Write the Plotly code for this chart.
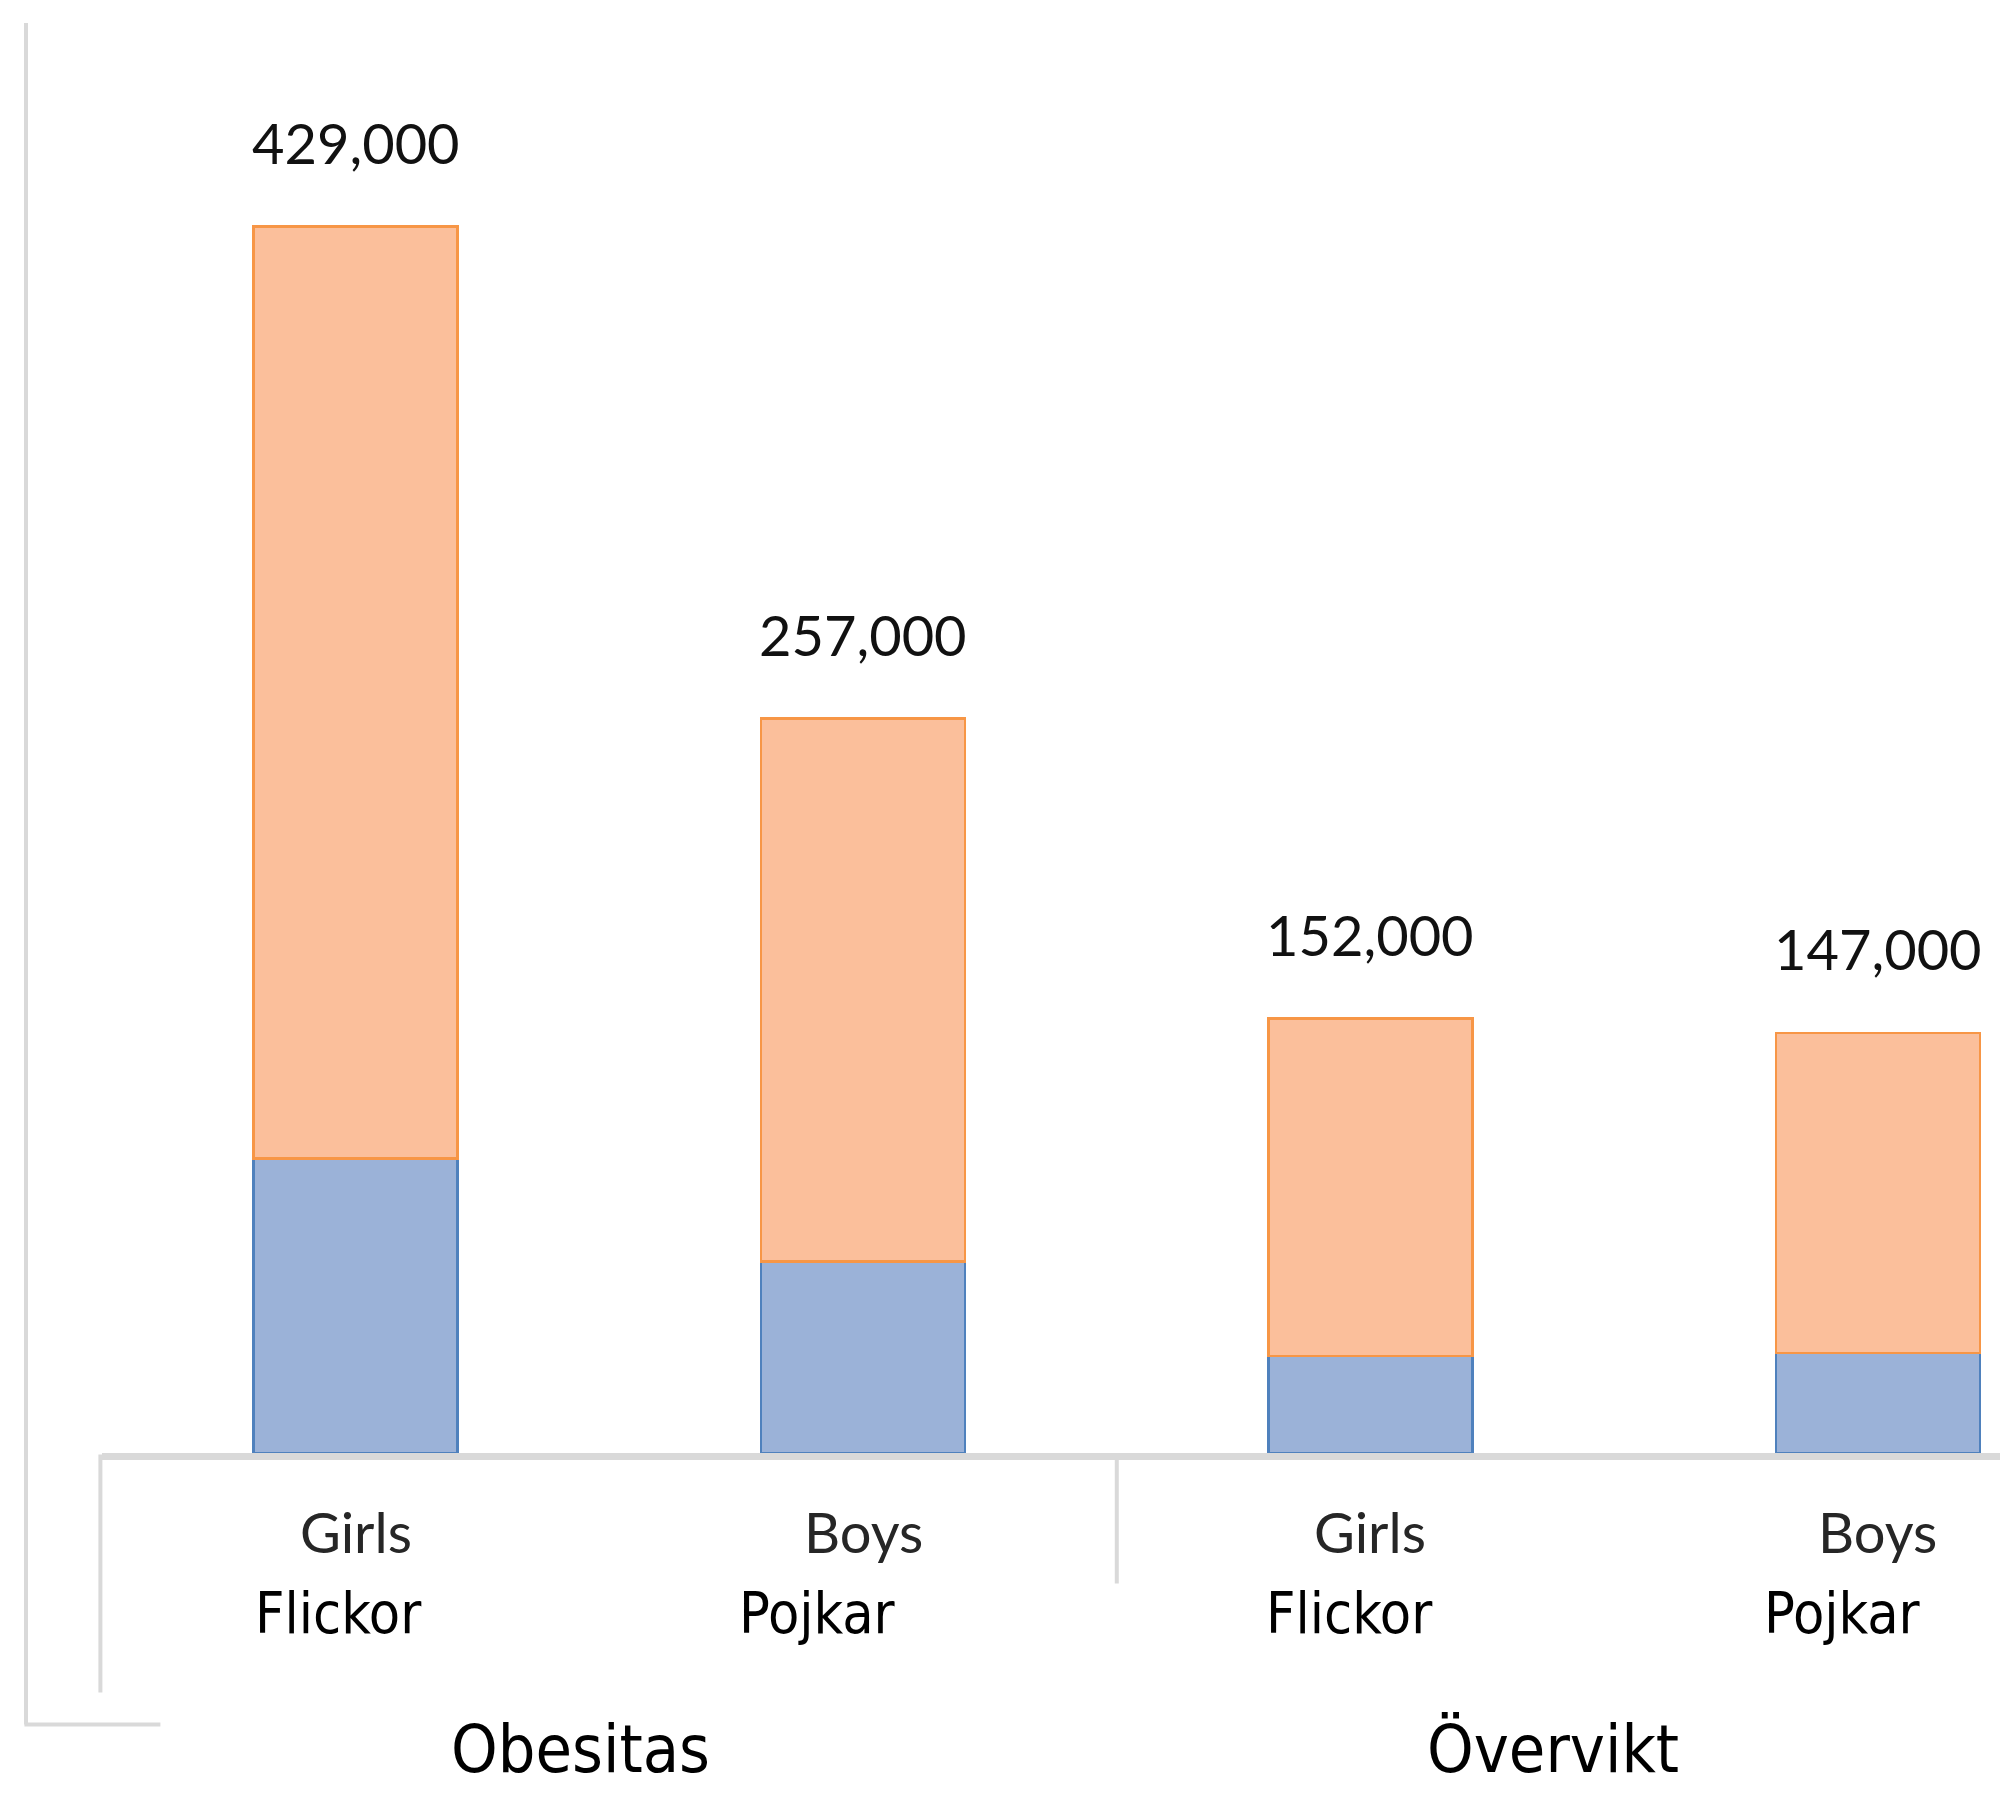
import plotly.graph_objects as go

# ---------------- data ----------------
categories = ["Obesitas · Girls", "Obesitas · Boys", "Övervikt · Girls", "Övervikt · Boys"]
english_labels = ["Girls", "Boys", "Girls", "Boys"]
swedish_labels = ["Flickor", "Pojkar", "Flickor", "Pojkar"]
group_labels = ["Obesitas", "Övervikt"]
group_centers = [0.5, 2.5]
blue_values = [103000, 67000, 34000, 35000]
orange_values = [326000, 190000, 118000, 112000]
total_values = [429000, 257000, 152000, 147000]

# ---------------- styling ----------------
OFF = 8  # default page body margin of the written html
W, H = 2008 - OFF, 1793 - OFF
PLOT_LEFT = 101.6 - OFF
PLOT_BOTTOM = 1453.5 - OFF
PX_PER_UNIT = 1226.8 / 429000
CAT_PX = 507.5

GRID = "#d9d9d9"
CALIBRI = "Lato, Carlito, Calibri, sans-serif"
NARROW = "DejaVu Sans Condensed, Liberation Sans Narrow, Arial Narrow, sans-serif"

fig = go.Figure()
fig.add_trace(go.Bar(
    x=categories, y=blue_values, width=0.402,
    marker=dict(color="#9bb2d8", line=dict(color="#4f81bd", width=2.5)),
    hoverinfo="skip",
))
fig.add_trace(go.Bar(
    x=categories, y=orange_values, width=0.402,
    marker=dict(color="#fbbf9b", line=dict(color="#f79646", width=2.5)),
    hoverinfo="skip",
))

ann = []
swedish_shift = [-17, -46, -21, -35]
for i, c in enumerate(categories):
    ann.append(dict(x=c, y=total_values[i], xref="x", yref="y", text=f"{total_values[i]:,}",
                    showarrow=False, yanchor="middle", xanchor="center", yshift=84,
                    font=dict(family=CALIBRI, size=56, color="#111111")))
    ann.append(dict(x=c, y=0, xref="x", yref="y", text=english_labels[i],
                    showarrow=False, yanchor="middle", xanchor="center", yshift=-78.5,
                    font=dict(family=CALIBRI, size=56, color="#262626")))
    ann.append(dict(x=c, y=0, xref="x", yref="y", text=swedish_labels[i],
                    showarrow=False, yanchor="middle", xanchor="center", yshift=-160,
                    xshift=swedish_shift[i],
                    font=dict(family=NARROW, size=57, color="#000000")))
group_shift = [-29, -71]
for g, gx, gs in zip(group_labels, group_centers, group_shift):
    ann.append(dict(x=gx, y=0, xref="x", yref="y", text=g, showarrow=False,
                    yanchor="middle", xanchor="center", yshift=-296.5, xshift=gs,
                    font=dict(family=NARROW, size=66, color="#000000")))

plot_w = W - PLOT_LEFT
def px_x(p):
    return (p - OFF - PLOT_LEFT) / plot_w
def px_y(p):
    return (PLOT_BOTTOM - (p - OFF)) / PLOT_BOTTOM

shapes = [
    # outer frame (left + bottom stub)
    dict(type="line", xref="paper", yref="paper", x0=px_x(25.6), x1=px_x(25.6),
         y0=px_y(23), y1=px_y(1725), line=dict(color=GRID, width=4)),
    dict(type="line", xref="paper", yref="paper", x0=px_x(24), x1=px_x(160),
         y0=px_y(1725), y1=px_y(1725), line=dict(color=GRID, width=4)),
    # category axis left boundary
    dict(type="line", xref="paper", yref="paper", x0=px_x(100), x1=px_x(100),
         y0=px_y(1455), y1=px_y(1693), line=dict(color=GRID, width=4)),
    # group divider
    dict(type="line", xref="x", yref="paper", x0=1.5, x1=1.5,
         y0=px_y(1455), y1=px_y(1584), line=dict(color=GRID, width=4)),
]

fig.update_layout(
    width=W, height=H,
    margin=dict(l=PLOT_LEFT, r=0, t=0, b=H - PLOT_BOTTOM, pad=0),
    barmode="stack",
    showlegend=False,
    plot_bgcolor="white", paper_bgcolor="white",
    annotations=ann, shapes=shapes,
    hovermode=False,
)
fig.update_xaxes(range=[-0.5, -0.5 + plot_w / CAT_PX], showticklabels=False, ticks="",
                 showgrid=False, zeroline=False, showline=True, linecolor=GRID, linewidth=7)
fig.update_yaxes(range=[0, PLOT_BOTTOM / PX_PER_UNIT], visible=False, showgrid=False, zeroline=False)

fig.write_html("out.html")
